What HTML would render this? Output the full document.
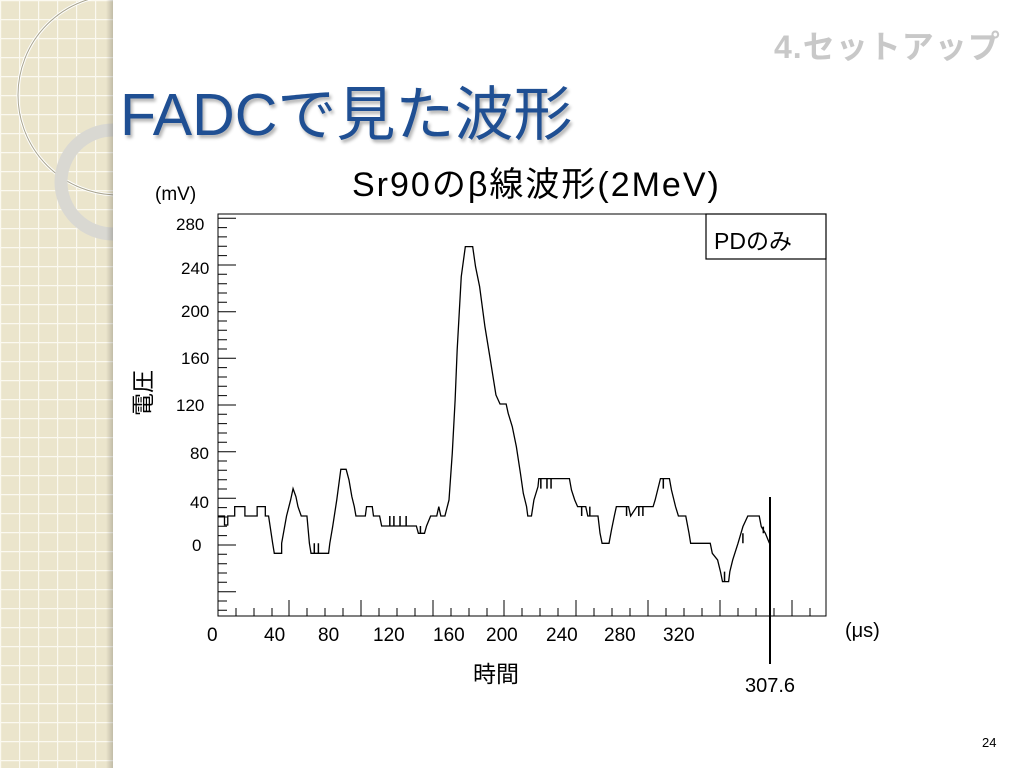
<!DOCTYPE html>
<html><head><meta charset="utf-8"><style>
body{margin:0;width:1024px;height:768px;background:#fff;position:relative;overflow:hidden;font-family:"Liberation Sans","Noto Sans CJK JP",sans-serif}
.t{position:absolute;white-space:nowrap;color:#000}
</style></head><body>
<svg width="1024" height="768" style="position:absolute;left:0;top:0">
<defs>
<pattern id="g" width="19" height="19" patternUnits="userSpaceOnUse">
<rect width="19" height="19" fill="#ebe5cc"/>
<path d="M0 0.5H19M0.5 0V19" stroke="#fbf9f0" stroke-width="1.4"/>
</pattern>
<clipPath id="c"><rect x="0" y="0" width="113" height="768"/></clipPath>
<linearGradient id="sh" x1="0" x2="1"><stop offset="0" stop-color="#000" stop-opacity="0"/><stop offset="1" stop-color="#000" stop-opacity="0.18"/></linearGradient>
</defs>
<rect x="0" y="0" width="113" height="768" fill="url(#g)"/>
<g clip-path="url(#c)">
<circle cx="118" cy="95" r="100" fill="none" stroke="#fff" stroke-width="3"/>
<circle cx="118" cy="95" r="100" fill="none" stroke="#a9a590" stroke-width="1"/>
<circle cx="113" cy="182" r="52" fill="none" stroke="#d9d8d2" stroke-width="13"/>
</g>
<rect x="106" y="0" width="7" height="768" fill="url(#sh)"/>

<rect x="218" y="214" width="608" height="402" fill="none" stroke="#000" stroke-width="1"/>
<g stroke="#000" stroke-width="1">
<path d="M218 218.3H236M218 265H236M218 311.7H236M218 358.3H236M218 405H236M218 451.7H236M218 498.3H236M218 545H236M218 591.7H236"/>
<path d="M218 227.6H227M218 236.9H227M218 246.3H227M218 255.6H227M218 274.3H227M218 283.7H227M218 293H227M218 302.3H227M218 321H227M218 330.3H227M218 339.7H227M218 349H227M218 367.6H227M218 377H227M218 386.3H227M218 395.6H227M218 414.3H227M218 423.6H227M218 433H227M218 442.3H227M218 461H227M218 470.3H227M218 479.7H227M218 489H227M218 507.6H227M218 517H227M218 526.3H227M218 535.6H227M218 554.3H227M218 563.7H227M218 573H227M218 582.3H227M218 601H227M218 610.3H227"/>
<path d="M289 616V600M361 616V600M433 616V600M504 616V600M576 616V600M648 616V600M720 616V600M792 616V600"/>
<path d="M236 616V608M254 616V608M272 616V608M307 616V608M325 616V608M343 616V608M379 616V608M397 616V608M415 616V608M451 616V608M469 616V608M487 616V608M522 616V608M540 616V608M558 616V608M594 616V608M612 616V608M630 616V608M666 616V608M684 616V608M702 616V608M738 616V608M756 616V608M774 616V608M810 616V608"/>
</g>
<g transform="translate(200,200) scale(0.4082,0.3333)">
<path vector-effect="non-scaling-stroke" fill="none" stroke="#000" stroke-width="1.3" d="M45 948L60 948L60 975L68 975L68 948L85 948L85 920L110 920L110 948L140 948L140 920L160 920L160 948L168 948L178 1030L182 1060L200 1060L200 1030L212 948L222 900L228 866L235 890L240 920L248 948L262 948L268 1030L272 1060L315 1060L318 1030L325 980L335 900L345 808L358 808L365 840L372 890L378 920L382 948L405 948L408 920L422 920L425 948L440 948L445 978L530 978L535 1000L550 1000L555 978L565 948L580 948L585 920L590 948L600 948L610 900L618 760L625 600L630 450L640 230L650 140L668 140L675 200L685 260L698 380L710 470L725 585L735 612L750 612L755 640L765 680L775 740L785 820L792 880L800 920L803 948L812 948L818 900L828 860L830 836L905 836L910 870L918 900L925 920L945 920L950 948L975 948L980 1000L985 1030L1002 1030L1008 990L1015 948L1020 920L1050 920L1055 948L1070 920L1110 920L1115 900L1128 836L1150 836L1155 870L1165 920L1172 948L1190 948L1198 1000L1202 1030L1250 1030L1255 1060L1268 1080L1275 1115L1280 1145L1295 1145L1298 1115L1305 1080L1318 1030L1330 980L1342 948L1370 948L1375 980L1385 1000L1395 1030"/>
<path vector-effect="non-scaling-stroke" fill="none" stroke="#000" stroke-width="1.5" d="M280 1060V1030M290 1060V1030M465 978V948M475 978V948M490 978V948M505 978V948M540 1000V978M835 836V866M850 836V866M860 836V866M935 920V948M955 920V948M1045 920V948M1075 920V948M1085 920V948M1135 836V866M1285 1145V1115M1330 1030V1000M1380 1000V980"/>
</g>
<line x1="770" y1="497" x2="770" y2="664" stroke="#000" stroke-width="2"/>
<rect x="706" y="214" width="120" height="45" fill="#fff" stroke="#000" stroke-width="1.2"/>
</svg>
<div class="t" style="left:774px;top:22px;font-size:32px;font-weight:bold;color:#c8c8c8;letter-spacing:1px">4.セットアップ</div>
<div class="t" style="left:120px;top:67px;font-size:59px;color:#1f4f93;text-shadow:2px 3px 3px rgba(0,0,0,0.3)">FADCで見た波形</div>
<div class="t" style="left:352px;top:157px;font-size:34px;letter-spacing:2px">Sr90のβ線波形(2MeV)</div>
<div class="t" style="left:155px;top:184px;font-size:19px">(mV)</div>
<div class="t" style="left:714px;top:222px;font-size:23px">PDのみ</div>
<div class="t" style="left:176px;top:215px;font-size:17px">280</div>
<div class="t" style="left:181px;top:259px;font-size:17px">240</div>
<div class="t" style="left:181px;top:302px;font-size:17px">200</div>
<div class="t" style="left:181px;top:349px;font-size:17px">160</div>
<div class="t" style="left:176px;top:396px;font-size:17px">120</div>
<div class="t" style="left:190px;top:444px;font-size:17px">80</div>
<div class="t" style="left:190px;top:493px;font-size:17px">40</div>
<div class="t" style="left:192px;top:536px;font-size:17px">0</div>
<div class="t" style="left:118px;top:376px;font-size:23px;transform:rotate(-90deg);transform-origin:center">電圧</div>
<div class="t" style="left:207px;top:625px;font-size:19px">0</div>
<div class="t" style="left:264px;top:625px;font-size:19px">40</div>
<div class="t" style="left:318px;top:625px;font-size:19px">80</div>
<div class="t" style="left:373px;top:625px;font-size:19px">120</div>
<div class="t" style="left:433px;top:625px;font-size:19px">160</div>
<div class="t" style="left:486px;top:625px;font-size:19px">200</div>
<div class="t" style="left:546px;top:625px;font-size:19px">240</div>
<div class="t" style="left:604px;top:625px;font-size:19px">280</div>
<div class="t" style="left:663px;top:625px;font-size:19px">320</div>
<div class="t" style="left:845px;top:620px;font-size:20px">(μs)</div>
<div class="t" style="left:473px;top:655px;font-size:23px">時間</div>
<div class="t" style="left:745px;top:675px;font-size:20px">307.6</div>
<div class="t" style="left:982px;top:735px;font-size:13px">24</div>
</body></html>
